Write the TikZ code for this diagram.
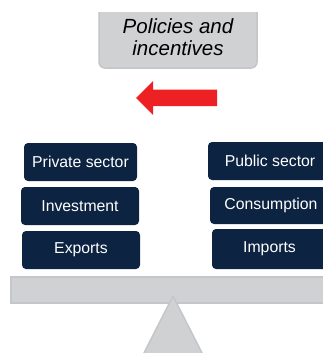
\documentclass[tikz,border=0pt]{standalone}
\usepackage{fontspec}
\setmainfont{Liberation Sans}
\definecolor{navy}{HTML}{0C2341}
\definecolor{lightgrey}{HTML}{D0D1D3}
\definecolor{greyedge}{HTML}{C5C6C9}
\definecolor{arrowred}{HTML}{ED2024}
\tikzset{
  factor/.style={fill=navy, rounded corners=4pt, text=white,
    font=\fontsize{15.8}{18}\selectfont, inner sep=0pt},
  greyshape/.style={fill=lightgrey, draw=greyedge, line width=1.5pt},
}
\begin{document}
\begin{tikzpicture}[x=1pt,y=-1pt]
\clip (0,0) rectangle (323,353);
\fill[white] (0,0) rectangle (323,353);

% policy box, flat on top and rounded below
\begin{scope}
  \clip (90,13) rectangle (270,80);
  \path[greyshape, rounded corners=6pt] (99,-10) rectangle (257,68);
\end{scope}
\node[font=\fontsize{20.5}{22}\selectfont\itshape, align=center] (policy) at (178,37.5)
  {Policies and\\incentives};

% red arrow pointing left
\fill[arrowred] (136,98) -- (153,81) -- (153,89.5) -- (217,89.5) -- (217,106)
  -- (153,106) -- (153,115) -- cycle;

% left column
\node[factor, minimum width=113pt, minimum height=38pt] (private) at (80.5,162) {Private sector};
\node[factor, minimum width=118pt, minimum height=38pt] (invest) at (80,206) {Investment};
\node[factor, minimum width=118pt, minimum height=38pt] (exports) at (81,250) {Exports};

% right column
\node[factor, minimum width=124pt, minimum height=38pt] (public) at (270,161) {Public sector};
\node[factor, minimum width=122pt, minimum height=37pt] (consume) at (271,205.5) {Consumption};
\node[factor, minimum width=115pt, minimum height=40pt] (imports) at (269.5,249) {Imports};

% balance beam and fulcrum
\path[greyshape] (11,277) rectangle (335,303);
\path[greyshape, line join=round] (173,296) -- (205.6,360) -- (140.4,360) -- cycle;
\end{tikzpicture}
\end{document}
